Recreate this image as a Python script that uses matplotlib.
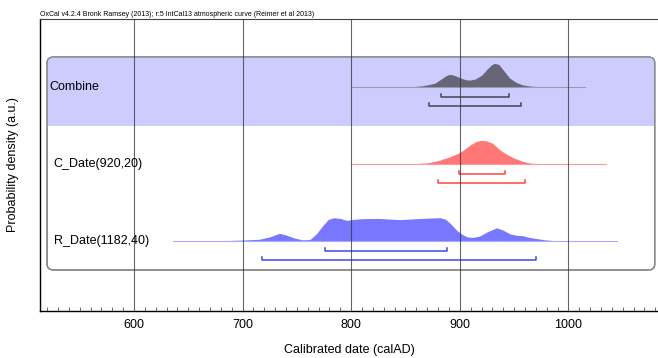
import matplotlib.pyplot as plt
from matplotlib.patches import FancyBboxPatch, Rectangle
from matplotlib.ticker import MultipleLocator

plt.rcParams['font.family'] = ['Liberation Sans', 'DejaVu Sans']

# --- data (years AD, relative density) ---
combine_years = [800, 840, 855, 865, 872, 877, 883, 888, 891, 895, 900, 905, 909, 914,
                 920, 925, 929, 932, 936, 940, 946, 952, 958, 965, 975, 990, 1015]
combine_dens = [0, 0.003, 0.02, 0.06, 0.12, 0.17, 0.35, 0.5, 0.54, 0.5, 0.4, 0.32, 0.3, 0.34,
                0.5, 0.75, 0.93, 1.0, 0.95, 0.72, 0.38, 0.2, 0.1, 0.05, 0.015, 0.003, 0]

cdate_years = [800, 850, 870, 880, 890, 898, 903, 910, 915, 920, 925, 930, 937, 943,
               950, 958, 965, 975, 990, 1035]
cdate_dens = [0, 0.005, 0.06, 0.15, 0.3, 0.45, 0.58, 0.82, 0.95, 1.0, 0.97, 0.88, 0.6, 0.42,
              0.26, 0.12, 0.05, 0.015, 0.003, 0]

rdate_years = [636, 680, 700, 715, 725, 734, 740, 748, 755, 762, 768, 774, 779, 784, 790,
               796, 802, 810, 825, 845, 860, 875, 882, 887, 892, 897, 902, 907, 912, 918,
               926, 934, 940, 946, 952, 958, 964, 971, 978, 986, 1000, 1045]
rdate_dens = [0, 0.01, 0.04, 0.07, 0.17, 0.32, 0.25, 0.12, 0.05, 0.06, 0.3, 0.65, 0.9, 0.97,
              0.94, 0.86, 0.9, 0.93, 0.94, 0.89, 0.93, 0.96, 0.97, 0.9, 0.7, 0.45, 0.28, 0.17,
              0.15, 0.2, 0.4, 0.55, 0.45, 0.3, 0.24, 0.22, 0.15, 0.1, 0.05, 0.02, 0.005, 0]

# 68.2% and 95.4% ranges
combine_ranges = [(883, 945), (872, 956)]
cdate_ranges = [(899, 942), (880, 960)]
rdate_ranges = [(776, 888), (718, 970)]

labels = ["Combine", "C_Date(920,20)", "R_Date(1182,40)"]

rows = [
    (combine_years, combine_dens, combine_ranges, 223.7, "#666677", "#9999aa", "#444455"),
    (cdate_years, cdate_dens, cdate_ranges, 146.7, "#ff7777", "#ff9999", "#ff4444"),
    (rdate_years, rdate_dens, rdate_ranges, 70.0, "#7777ff", "#aaaaff", "#4444ee"),
]
label_x = [522, 526, 526]

fig = plt.figure(figsize=(6.58, 3.58), dpi=100)
ax = fig.add_axes([39.9 / 658, 47 / 358, (658 - 39.9) / 658, 292 / 358])
ax.set_xlim(513.4, 1082.5)
ax.set_ylim(0, 292)

# rounded panel and the shaded combine band
box = FancyBboxPatch((520, 41), 1079.5 - 520, 254 - 41,
                     boxstyle="round,pad=0,rounding_size=6",
                     fc="white", ec="#888888", lw=1.0, zorder=1)
ax.add_patch(box)
band = Rectangle((515, 185), 570, 80, fc="#ccccff", ec="none", zorder=1.5)
ax.add_patch(band)
band.set_clip_path(box)
box2 = FancyBboxPatch((520, 41), 1079.5 - 520, 254 - 41,
                      boxstyle="round,pad=0,rounding_size=6",
                      fc="none", ec="#888888", lw=1.0, zorder=2)
ax.add_patch(box2)

peak = 24
for (yrs, dens, rngs, base, fill, line, brk), lab, lx in zip(rows, labels, label_x):
    ax.fill_between(yrs, base, [base + d * peak for d in dens], color=fill, lw=0, zorder=3)
    ax.plot([yrs[0], yrs[-1]], [base, base], color=line, lw=0.8, zorder=3)
    for (x0, x1), off in zip(rngs, [10, 19]):
        y = base - off
        ax.plot([x0, x0, x1, x1], [y + 3, y, y, y + 3], color=brk, lw=1.1, zorder=3)
    ax.text(lx, base, lab, fontsize=9, va="center", ha="left", zorder=4)

# vertical grid lines at the hundreds
for yr in [600, 700, 800, 900, 1000]:
    ax.axvline(yr, color="#333333", lw=0.8, alpha=0.75, zorder=3.5)

ax.xaxis.set_major_locator(MultipleLocator(100))
ax.xaxis.set_minor_locator(MultipleLocator(10))
ax.tick_params(axis="x", which="major", direction="in", length=0, labelsize=9, pad=6)
ax.tick_params(axis="x", which="minor", direction="in", length=3, width=0.6, color="#555555")
ax.set_yticks([])
ax.spines["right"].set_visible(False)
ax.spines["top"].set_color("#444444")
ax.spines["top"].set_linewidth(0.8)
ax.spines["left"].set_linewidth(1.0)
ax.spines["bottom"].set_linewidth(1.0)

ax.set_xlabel("Calibrated date (calAD)", fontsize=9, labelpad=9)
ax.set_ylabel("Probability density (a.u.)", fontsize=9, labelpad=15)
fig.text(40 / 658, 1 - 14 / 358,
         "OxCal v4.2.4 Bronk Ramsey (2013); r:5 IntCal13 atmospheric curve (Reimer et al 2013)",
         fontsize=5, va="center", ha="left")

fig.savefig("out.png", dpi=100)
